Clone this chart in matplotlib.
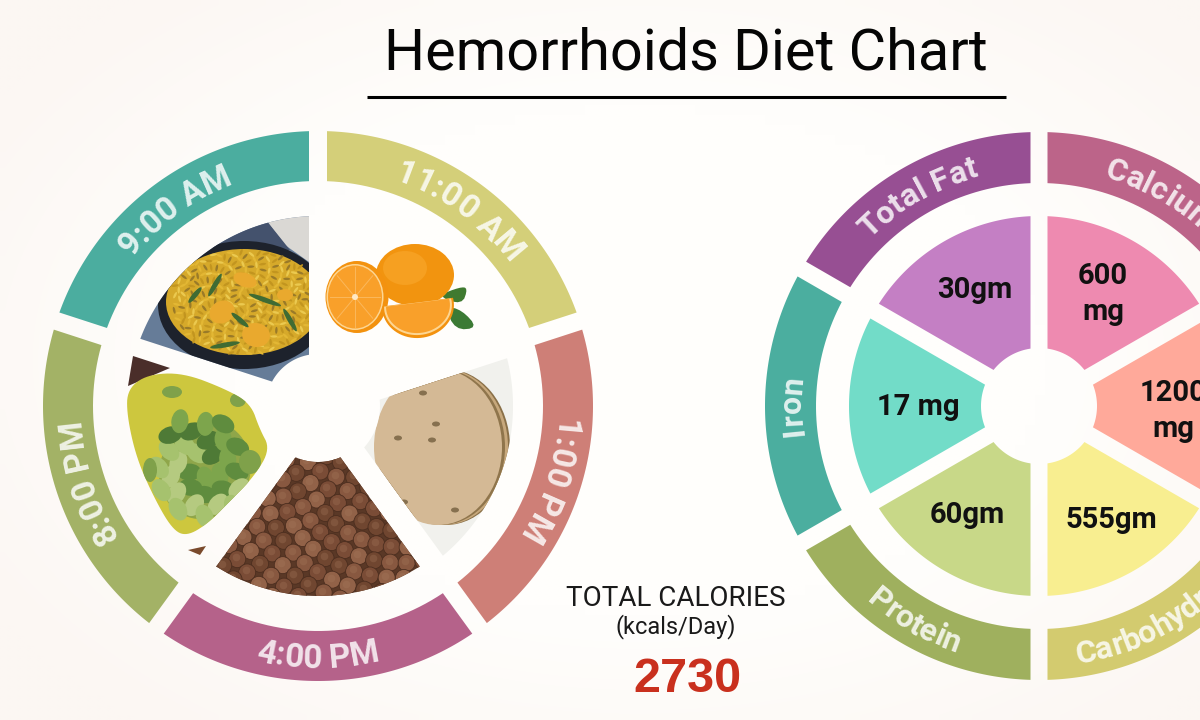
import numpy as np
import matplotlib
matplotlib.use('Agg')
import matplotlib.pyplot as plt
from matplotlib.colors import to_rgb
from matplotlib.patches import Polygon, Ellipse
from matplotlib.font_manager import FontProperties

plt.rcParams['font.family'] = ['Roboto', 'DejaVu Sans']

# 数据
title = 'Hemorrhoids Diet Chart'
times = ['9:00 AM', '11:00 AM', '1:00 PM', '4:00 PM', '8:00 PM']
time_colors = ['#4BAD9F', '#D4CF79', '#CE7F77', '#B5628A', '#A3B266']
time_starts = [162, 90, 18, -54, -126]

nutrients = ['Total Fat', 'Iron', 'Protein', 'Carbohydrate', 'Calcium']
nutrient_colors = ['#974F93', '#4BAE9F', '#9FB05E', '#D3CB6F', '#BC6489']
nutrient_starts = [150, 210, 270, 330, 90]

amounts = ['30gm', '17 mg', '60gm', '555gm', '1200\nmg', '600\nmg']
amount_colors = ['#C47FC4', '#72DCC8', '#C8D888', '#F8EE90', '#FFA99A', '#EE8AB0']
amount_starts = [150, 210, 270, 330, 30, 90]
amount_x = [975, 918, 967, 1111, 1173, 1103]
amount_y = [290, 407, 515, 520, 411, 294]

calories_label = 'TOTAL CALORIES'
calories_unit = '(kcals/Day)'
calories = '2730'

BG = '#FDF9F6'
LEFT = (318, 406)
RIGHT = (1039, 406)

fig = plt.figure(figsize=(12, 7.2), dpi=100, facecolor=BG)
ax = fig.add_axes([0, 0, 1, 1])
ax.set_xlim(0, 1200)
ax.set_ylim(720, 0)
ax.axis('off')
renderer = fig.canvas.get_renderer()

# 背景中间偏白
gx, gy = np.meshgrid(np.linspace(0, 1200, 120), np.linspace(0, 720, 72))
glow = np.clip(1 - np.hypot((gx - 640) / 760, (gy - 360) / 480), 0, 1)[..., None]
glow = np.clip(glow * 2.2, 0, 1)
bg_img = np.array(to_rgb('#FCF7F3')) * (1 - glow) + np.array(to_rgb('#FFFEFC')) * glow
ax.imshow(bg_img, extent=(0, 1200, 720, 0), aspect='auto', zorder=0, interpolation='bilinear')
ax.set_xlim(0, 1200)
ax.set_ylim(720, 0)


def sector(c, r0, r1, a_hi, span, gap):
    # 环形扇区，两边的缝宽度不变
    a_lo = a_hi - span
    d1 = np.degrees(np.arcsin(gap / r1))
    d0 = np.degrees(np.arcsin(gap / r0))
    t1 = np.radians(np.linspace(a_lo + d1, a_hi - d1, 80))
    t0 = np.radians(np.linspace(a_hi - d0, a_lo + d0, 40))
    xs = np.r_[c[0] + r1 * np.cos(t1), c[0] + r0 * np.cos(t0)]
    ys = np.r_[c[1] - r1 * np.sin(t1), c[1] - r0 * np.sin(t0)]
    return np.c_[xs, ys]


def fill(points, color, z=2, clip=None, **kw):
    p = Polygon(points, closed=True, fc=color, ec='none', zorder=z, **kw)
    ax.add_patch(p)
    if clip is not None:
        p.set_clip_path(clip)
    return p


def oval(x, y, w, h, color, z=3, clip=None, angle=0):
    e = Ellipse((x, y), w, h, angle=angle, fc=color, ec='none', zorder=z)
    ax.add_patch(e)
    if clip is not None:
        e.set_clip_path(clip)
    return e


def smooth(points, n=3):
    # Chaikin 平滑
    pts = np.array(points, float)
    for _ in range(n):
        nxt = np.roll(pts, -1, axis=0)
        pts = np.c_[0.75 * pts + 0.25 * nxt, 0.25 * pts + 0.75 * nxt].reshape(-1, 2)
    return pts


def arc_text(c, r, center, s, size, weight='bold'):
    # 沿圆弧逐字放置文字
    fp = FontProperties(family='Roboto', size=size, weight=weight)

    def width(t):
        w_all = renderer.get_text_width_height_descent(t + '|', fp, False)[0]
        w_bar = renderer.get_text_width_height_descent('|', fp, False)[0]
        return w_all - w_bar

    flip = np.sin(np.radians(center)) < -0.6
    total = width(s)
    for i, ch in enumerate(s):
        if ch == ' ':
            continue
        pos = width(s[:i]) + width(ch) / 2 - total / 2
        if flip:
            rb = r + size * 100 / 72 * 0.36
            a = center + np.degrees(pos / rb)
            rot = a + 90
        else:
            rb = r - size * 100 / 72 * 0.36
            a = center - np.degrees(pos / rb)
            rot = a - 90
        x = c[0] + rb * np.cos(np.radians(a))
        y = c[1] - rb * np.sin(np.radians(a))
        ax.text(x, y, ch, fontproperties=fp, color='#FFFFFF', alpha=0.82, rotation=rot,
                rotation_mode='anchor', ha='center', va='baseline', zorder=6)


def spiral(cx, cy, step, count):
    # 向日葵排列，只用来铺食物的纹理
    n = np.arange(1, count + 1)
    r = step * np.sqrt(n)
    t = n * 2.39996
    return cx + r * np.cos(t), cy + r * np.sin(t)


def draw_rice():
    clip = fill(sector(LEFT, 52, 190, 162, 72, 9), '#667C98', z=2)
    fill([(262, 215), (309, 215), (309, 262), (285, 245)], '#DAD8D4', z=2, clip=clip)
    fill([(185, 240), (262, 215), (290, 250), (220, 250)], '#44526D', z=2, clip=clip)
    oval(244, 305, 172, 128, '#1D222C', clip=clip)
    oval(244, 302, 156, 106, '#D6A92A', z=4, clip=clip)
    xs, ys = spiral(244, 302, 3.4, 440)
    keep = ((xs - 244) / 77) ** 2 + ((ys - 302) / 52) ** 2 < 1
    shades = np.array(['#EBC94F', '#C2951F', '#E3B734', '#9A7A28'])[np.arange(keep.sum()) % 4]
    for x, y, col, a in zip(xs[keep], ys[keep], shades, np.arange(keep.sum()) * 47):
        oval(x, y, 7, 2.4, col, z=5, clip=clip, angle=a)
    for x, y, w, h, a in [(222, 312, 26, 22, -30), (245, 280, 24, 14, 20), (256, 335, 28, 24, 10), (285, 295, 16, 12, 0)]:
        oval(x, y, w, h, '#E9A92E', z=6, clip=clip, angle=a)
    for x, y, w, a in [(215, 285, 26, -60), (265, 300, 34, 20), (225, 345, 30, -10), (195, 295, 20, -50), (290, 320, 26, 60), (240, 320, 22, 40)]:
        oval(x, y, w, 5, '#3F6B33', z=7, clip=clip, angle=a)


def draw_oranges():
    # 整个的橙子
    oval(415, 275, 78, 62, '#F2940F')
    oval(405, 268, 44, 34, '#F6A021', z=3)
    # 叶子
    fill(smooth([(437, 296), (460, 287), (468, 288), (462, 305)], 2), '#3F7A30', z=2)
    fill(smooth([(445, 306), (462, 310), (478, 328), (455, 330)], 2), '#3B7A35', z=2)
    # 切开的半个
    oval(357, 297, 63, 72, '#F3920F', z=4)
    oval(355, 297, 57, 66, '#FDD693', z=4)
    oval(355, 297, 54, 63, '#F9A02A', z=4)
    for a in range(0, 360, 45):
        t = np.radians(a)
        ax.plot([355, 355 + 25 * np.cos(t)], [297, 297 + 30 * np.sin(t)], color='#FBB85C', lw=0.7, zorder=5)
    oval(355, 297, 6, 6, '#FFE9C5', z=5)
    # 橙子瓣
    t = np.radians(np.linspace(-7, 187, 40))
    for rx, ry, col in [(36, 32, '#F3920F'), (34, 29, '#FDD693'), (32, 27, '#F9A02A')]:
        xs = 418 + rx * np.cos(t) * np.cos(np.radians(-7)) - ry * np.sin(t) * np.sin(np.radians(-7))
        ys = 306 + rx * np.cos(t) * np.sin(np.radians(-7)) + ry * np.sin(t) * np.cos(np.radians(-7))
        fill(np.c_[xs, ys], col, z=6)


def draw_roti():
    clip = fill(sector(LEFT, 62, 195, 18, 72, 13), '#F1F1ED', z=2)
    for dx, col in [(8, '#8A7048'), (6, '#C7A87C'), (3, '#8F754C'), (0, '#D4B995')]:
        oval(438 + dx, 447, 128, 156, col, clip=clip)
    for x, y in [(423, 393), (398, 438), (432, 440), (436, 424), (404, 502), (455, 510)]:
        oval(x, y, 8, 5, '#86704F', z=4, clip=clip)


def draw_chickpeas():
    clip = fill(sector(LEFT, 56, 190, -54, 72, 12), '#5A3826', z=2)
    xs, ys = spiral(LEFT[0], LEFT[1], 9, 480)
    ang = np.degrees(np.arctan2(-(ys - LEFT[1]), xs - LEFT[0]))
    keep = (ang < -45) & (ang > -135)
    xs, ys = xs[keep], ys[keep]
    shades = np.array(['#885840', '#7A4C36', '#926248', '#704630'])[np.arange(len(xs)) % 4]
    pts = ax.scatter(xs, ys, s=150, c=shades, linewidths=0.6, edgecolors='#4C2E1F', zorder=3)
    pts.set_clip_path(clip)
    hi = ax.scatter(xs - 1.5, ys - 2, s=30, c='#A87A5C', alpha=0.3, linewidths=0, zorder=4)
    hi.set_clip_path(clip)


def draw_curry():
    z_pts = [(245, 740), (300, 700), (400, 695), (520, 740), (590, 780), (615, 850), (645, 905), (600, 980),
             (530, 1050), (470, 1110), (410, 1145), (370, 1125), (320, 1040), (270, 930), (243, 810)]
    pts = [(40 + a / 2.8, 120 + b / 2.75) for a, b in z_pts]
    fill([(133, 356), (170, 368), (128, 386)], '#4A2E2A', z=2)
    fill([(188, 550), (206, 546), (200, 555)], '#7A4A2C', z=2)
    clip = fill(smooth(pts), '#CDC73E', z=3)
    oval(205, 470, 90, 100, '#8FA64A', z=3, clip=clip, angle=25)
    xs, ys = spiral(196, 466, 9, 44)
    shades = ['#5F8C3E', '#A6C26E', '#7DA54C', '#B5CA80', '#4E7A36']
    for i, (x, y) in enumerate(zip(xs, ys)):
        if ((x - 200) / 46) ** 2 + ((y - 468) / 56) ** 2 < 1:
            oval(x, y, 24, 17, shades[i % 5], z=4, clip=clip, angle=i * 37)
    for x, y, w, h in [(172, 392, 20, 12), (238, 400, 16, 14), (250, 462, 22, 24), (150, 470, 14, 24)]:
        oval(x, y, w, h, '#7FA14A', z=4, clip=clip)


# 左边的环和食物
for name, col, start in zip(times, time_colors, time_starts):
    fill(sector(LEFT, 225, 275, start, 72, 9), col, z=3)
    arc_text(LEFT, 250, start - 36, name, 24)

draw_rice()
draw_oranges()
draw_roti()
draw_chickpeas()
draw_curry()

# 右边的环和扇形
for name, col, start in zip(nutrients, nutrient_colors, nutrient_starts):
    fill(sector(RIGHT, 223, 274, start, 60, 8.5), col, z=3)
    arc_text(RIGHT, 249, start - 30, name, 23)

for col, start in zip(amount_colors, amount_starts):
    fill(sector(RIGHT, 58, 190, start, 60, 8.5), col, z=3)

for s, x, y in zip(amounts, amount_x, amount_y):
    ax.text(x, y, s, fontsize=21, weight='bold', color='#111111', ha='center', va='center',
            linespacing=1.38, zorder=6)

# 标题
ax.text(686, 54, title, family=['Liberation Sans Narrow', 'Roboto'], fontsize=41.5, color='#050505',
        ha='center', va='center', zorder=6)
ax.plot([367, 1006], [97, 97], color='#000000', lw=2.2, solid_capstyle='butt', zorder=6)

# 总热量
ax.text(676, 598, calories_label, fontsize=20, color='#1A1A1A', ha='center', va='center', zorder=6)
ax.text(676, 627, calories_unit, fontsize=17, color='#1A1A1A', ha='center', va='center', zorder=6)
ax.text(687, 679, calories, family=['Liberation Sans', 'Roboto'], fontsize=35, weight='bold', color='#C9301E',
        ha='center', va='center', zorder=6)

plt.savefig('out.png', dpi=100, facecolor=BG)
